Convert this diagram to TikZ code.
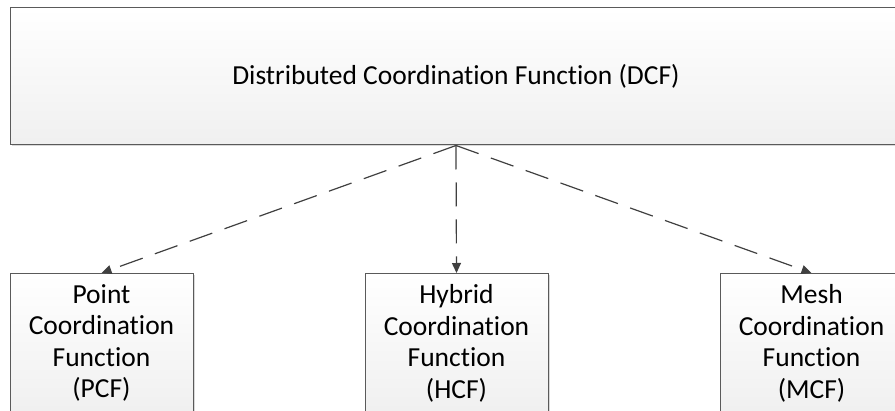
\documentclass[tikz,border=0pt]{standalone}
\usepackage{fontspec}
\setmainfont{Carlito}[Ligatures=NoCommon]
\usetikzlibrary{arrows.meta,shadows}

\definecolor{boxline}{HTML}{5A5A5A}
\definecolor{arrowline}{HTML}{404040}

\begin{document}
\begin{tikzpicture}[x=1pt, y=1pt,
	box/.style={rectangle, draw=boxline, line width=1pt,
		top color=white, bottom color=black!6,
		drop shadow={shadow xshift=1.5pt, shadow yshift=-1.5pt, fill=black!25, opacity=0.6},
		font=\fontsize{27.5pt}{31.5pt}\selectfont},
	main node/.style={box, minimum width=892pt, minimum height=137pt},
	sub node/.style={box, anchor=north, minimum width=183pt, text width=165pt,
		align=center, inner ysep=11pt},
	link/.style={draw=arrowline, line width=1.2pt, dash pattern=on 24pt off 13pt,
		-{Triangle[length=10pt, width=9pt]}}]
	
	\useasboundingbox (0,0) rectangle (895,410);
	\clip (0,0) rectangle (895,410);
	
	\node[main node] (1) at (456,333.5) {Distributed Coordination Function (DCF)};
	\node[sub node] (2) at (101.5,137) {Point\\Coordination\\Function\\(PCF)};
	\node[sub node] (3) at (456.5,137) {Hybrid\\Coordination\\Function\\(HCF)};
	\node[sub node] (4) at (811.5,137) {Mesh\\Coordination\\Function\\(MCF)};
	
	\path (1.south) edge[link] (2.north)
	edge[link] (3.north)
	edge[link] (4.north);
\end{tikzpicture}
\end{document}
